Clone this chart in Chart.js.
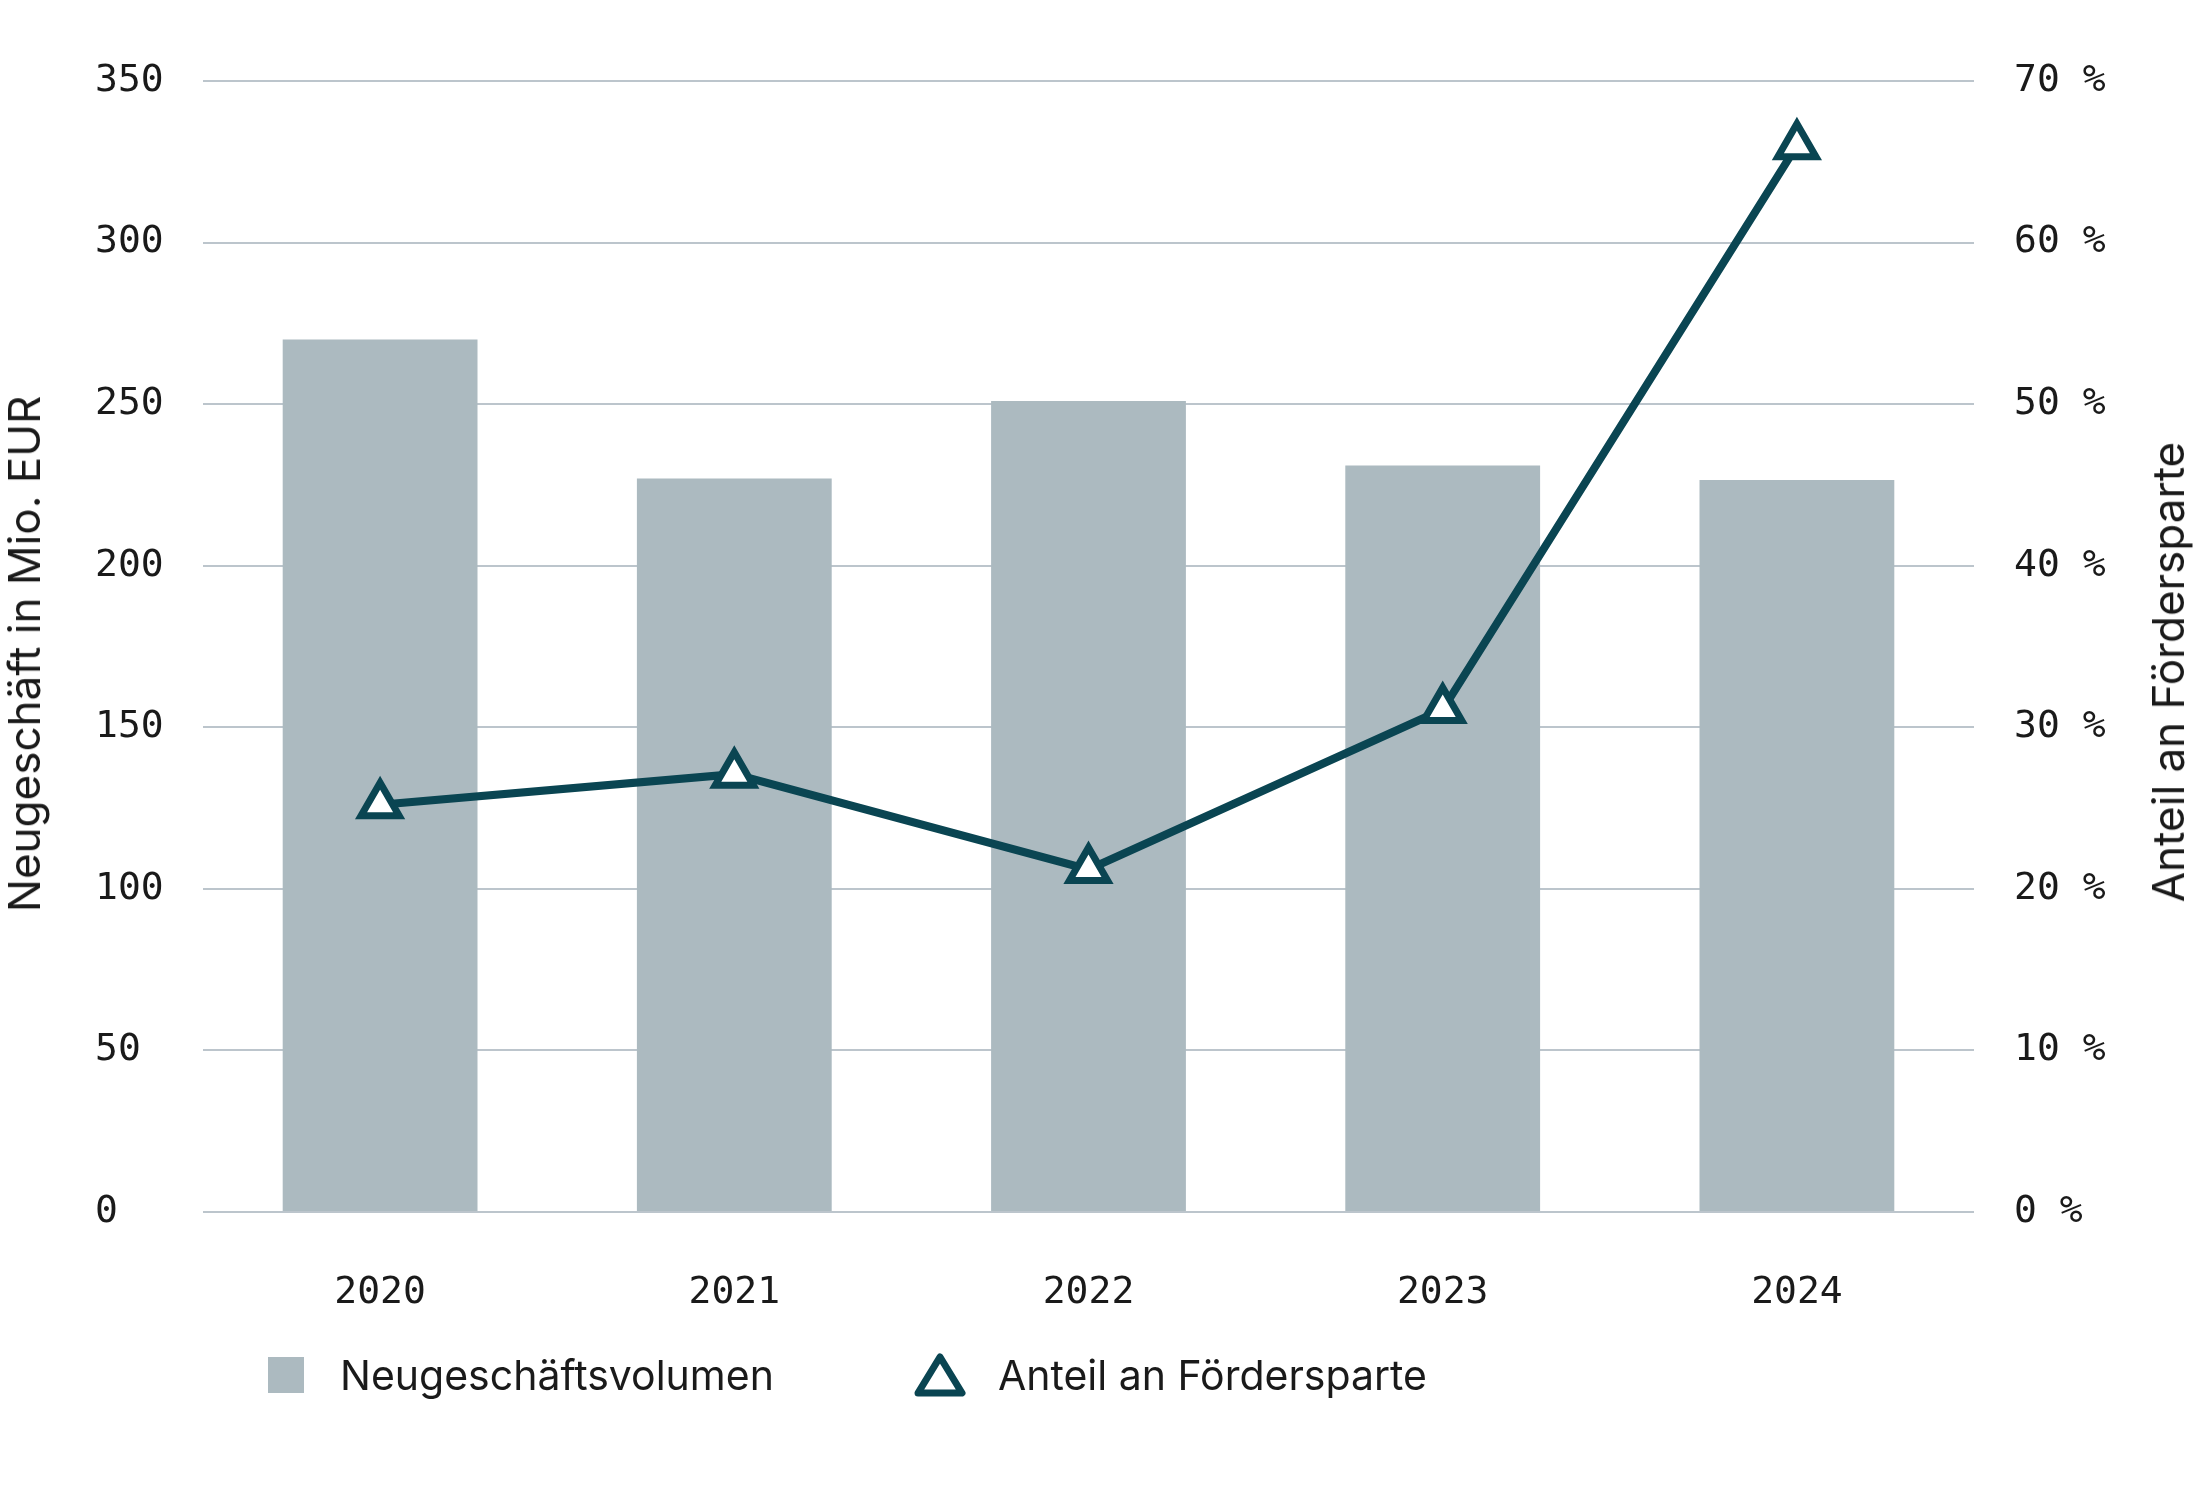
<!DOCTYPE html>
<html><head><meta charset="utf-8">
<script src="https://cdn.jsdelivr.net/npm/chart.js@4"></script>
<style>
html,body{margin:0;padding:0;background:#fff;}
#wrap{position:relative;width:2196px;height:1500px;}
canvas{position:absolute;left:0;top:0;}
#legend{position:absolute;top:1350px;left:268px;font-family:Inter,"Noto Sans",sans-serif;font-size:41px;color:#1a1a1a;display:flex;align-items:center;}
.sq{display:inline-block;width:36px;height:36px;background:#acbac0;margin-right:36px;}
.it{display:flex;align-items:center;margin-right:140px;}
.ttl{position:absolute;font-family:Inter,"Noto Sans",sans-serif;font-size:44px;color:#1a1a1a;white-space:nowrap;transform:translate(-50%,-50%) rotate(-90deg);}
</style></head><body>
<div id="wrap"><canvas id="c" width="2196" height="1500"></canvas>
<div class="ttl" style="left:24px;top:654px;">Neugeschäft in Mio. EUR</div>
<div class="ttl" style="left:2168px;top:672px;">Anteil an Fördersparte</div>
<div id="legend">
<div class="it"><span class="sq"></span>Neugeschäftsvolumen</div>
<div class="it"><svg width="52" height="46" style="margin-right:32px" viewBox="0 0 52 46"><polygon points="26,5 48,41 4,41" fill="#fff" stroke="#0a4552" stroke-width="7" stroke-linejoin="round"/></svg>Anteil an Fördersparte</div>
</div></div>
<script>
const categories = ["2020","2021","2022","2023","2024"];
const volumen = [270, 227, 251, 231, 226.5];
const anteil = [25.2, 27.1, 21.2, 31.1, 66.0];
const leftTicks = [0,50,100,150,200,250,300,350];
const rightTicks = [0,10,20,30,40,50,60,70];
const mono = "'DejaVu Sans Mono', monospace";
new Chart(document.getElementById('c'), {
  data: {
    labels: categories,
    datasets: [
      {type:'line', label:'Anteil an Fördersparte', data:anteil, yAxisID:'y2', borderColor:'#0a4552', borderWidth:8,
       pointStyle:'triangle', pointRadius:22, pointBackgroundColor:'#fff', pointBorderColor:'#0a4552', pointBorderWidth:7, order:0},
      {type:'bar', label:'Neugeschäftsvolumen', data:volumen, yAxisID:'y', backgroundColor:'#acbac0', categoryPercentage:0.55, barPercentage:1, order:1}
    ]
  },
  options: {
    responsive:false, animation:false,
    layout:{padding:{left:95,right:0,top:81,bottom:150}},
    plugins:{legend:{display:false}, tooltip:{enabled:false}},
    scales:{
      x:{grid:{display:false}, border:{display:false}, afterFit:a=>{a.height=138;},
         ticks:{color:'#1a1a1a', font:{family:mono,size:38}, padding:50}},
      y:{position:'left', min:0, max:350, afterBuildTicks:a=>{a.ticks=leftTicks.map(v=>({value:v}));},
         afterFit:a=>{a.width=108;},
         grid:{color:'#bcc5cc', lineWidth:2, drawTicks:false}, border:{display:false},
         ticks:{color:'#1a1a1a', font:{family:mono,size:38}, padding:30, crossAlign:'far'}},
      y2:{position:'right', min:0, max:70, afterBuildTicks:a=>{a.ticks=rightTicks.map(v=>({value:v}));},
         afterFit:a=>{a.width=222;},
         grid:{display:false}, border:{display:false},
         ticks:{color:'#1a1a1a', font:{family:mono,size:38}, padding:32, callback:v=>v+' %'}}
    }
  }
});
</script></body></html>
